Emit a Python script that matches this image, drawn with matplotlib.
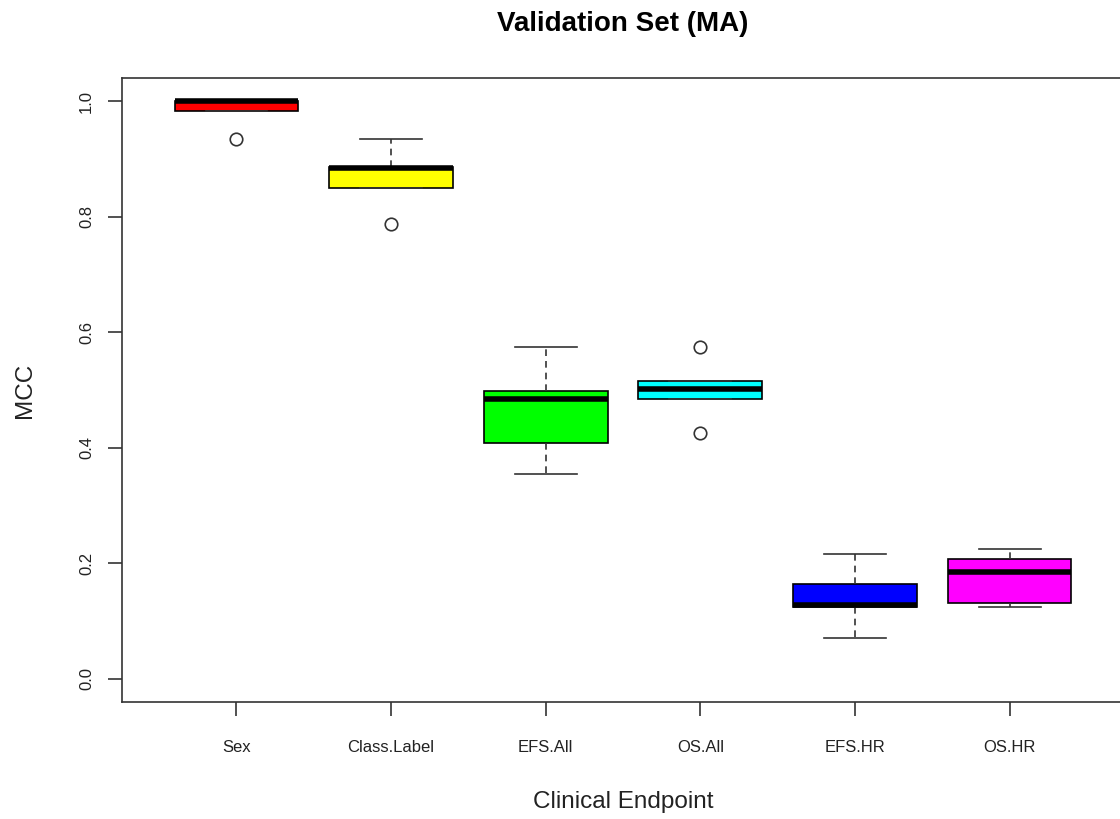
import matplotlib
matplotlib.use('Agg')
import matplotlib.pyplot as plt

plt.rcParams['font.family'] = ['Liberation Sans', 'DejaVu Sans']

endpoints = ['Sex', 'Class.Label', 'EFS.All', 'OS.All', 'EFS.HR', 'OS.HR']
colors = ['#ff0000', '#ffff00', '#00ff00', '#00ffff', '#0000ff', '#ff00ff']
# five-number summaries
whislo = [0.983, 0.849, 0.355, 0.485, 0.071, 0.125]
q1 = [0.983, 0.849, 0.409, 0.485, 0.125, 0.132]
med = [1.000, 0.884, 0.485, 0.501, 0.128, 0.185]
q3 = [1.000, 0.886, 0.499, 0.515, 0.165, 0.208]
whishi = [1.000, 0.934, 0.575, 0.515, 0.217, 0.224]
fliers = [[0.934], [0.787], [], [0.575, 0.425], [], []]

stats = []
for i in range(len(endpoints)):
    stats.append({'label': endpoints[i], 'whislo': whislo[i], 'q1': q1[i], 'med': med[i],
                  'q3': q3[i], 'whishi': whishi[i], 'fliers': fliers[i]})

fig = plt.figure(figsize=(11.2, 8.19), dpi=100)
ax = fig.add_axes([122 / 1120, 1 - 702 / 819, 1002 / 1120, (702 - 78) / 819])

bp = ax.bxp(stats, positions=range(1, 7), widths=0.8, patch_artist=True,
            boxprops=dict(edgecolor='black', linewidth=1.2),
            medianprops=dict(color='black', linewidth=4, solid_capstyle='butt'),
            whiskerprops=dict(color='#333333', linewidth=1.2, linestyle=(0, (4, 3))),
            capprops=dict(color='#333333', linewidth=1.2),
            flierprops=dict(marker='o', markerfacecolor='none', markeredgecolor='#333333',
                            markersize=9, markeredgewidth=1.2),
            capwidths=0.4)
for patch, c in zip(bp['boxes'], colors):
    patch.set_facecolor(c)

ax.set_xlim(0.26, 6.74)
ax.set_ylim(-0.04, 1.04)
ax.set_yticks([0.0, 0.2, 0.4, 0.6, 0.8, 1.0])
ax.set_yticklabels(['0.0', '0.2', '0.4', '0.6', '0.8', '1.0'], rotation=90, va='center', fontsize=12)
ax.set_xticks(range(1, 7))
ax.set_xticklabels(endpoints, fontsize=12)
ax.tick_params(axis='both', length=10, width=1.2, color='#333333', labelcolor='#222222')
ax.tick_params(axis='y', pad=10)
ax.tick_params(axis='x', pad=17)
for s in ax.spines.values():
    s.set_linewidth(1.2)
    s.set_color('#333333')

ax.set_ylabel('MCC', fontsize=17.5, labelpad=31, color='#222222')
ax.set_xlabel('Clinical Endpoint', fontsize=17.5, labelpad=26, color='#222222')
fig.text(623 / 1120, 1 - 24 / 819, 'Validation Set (MA)', ha='center', va='center',
         fontsize=20, fontweight='bold')

fig.savefig('out.png', dpi=100)
